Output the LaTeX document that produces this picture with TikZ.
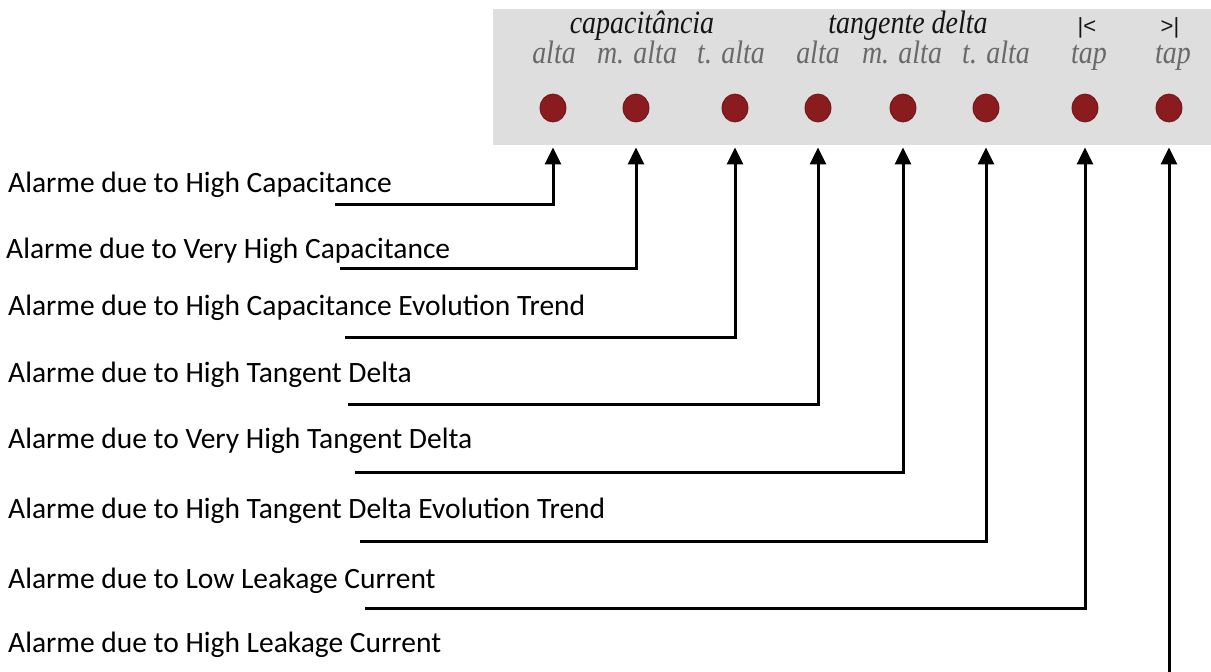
\documentclass[tikz,border=0pt]{standalone}
\usepackage{fontspec}
\usetikzlibrary{arrows.meta,shapes.geometric}
\newfontfamily\labfont{Carlito}
\newfontfamily\hdrfont[FakeStretch=0.86]{Liberation Serif}
\newfontfamily\symfont{Liberation Sans}
\definecolor{panelgray}{RGB}{222,222,222}
\definecolor{ledred}{RGB}{138,28,32}
\definecolor{subgray}{RGB}{105,105,105}
\definecolor{hdrblack}{RGB}{20,20,20}
\begin{document}
\begin{tikzpicture}[x=1pt,y=-1pt,
  lbl/.style={font=\labfont\fontsize{29.5}{34}\selectfont, anchor=base west, inner sep=0},
  hdr/.style={font=\hdrfont\itshape\fontsize{32.5}{38}\selectfont, text=hdrblack, anchor=base, inner sep=0},
  sub/.style={hdr, text=subgray},
  sym/.style={font=\symfont\fontsize{22}{26}\selectfont, text=hdrblack, anchor=base, inner sep=0},
  led/.style={ellipse, fill=ledred, minimum width=26pt, minimum height=28pt, inner sep=0, draw=ledred!80!black, line width=0.8pt},
  conn/.style={line width=3pt, -{Triangle[length=17pt,width=16pt]}, shorten >=25pt}]
\useasboundingbox (0,0) rectangle (1211,672);
\fill[white] (0,0) rectangle (1211,672);
% panel
\fill[panelgray] (493,9) rectangle (1211,145);
\node[hdr] (hcap) at (642,33) {capacitância};
\node[hdr] (htan) at (908,33) {tangente delta};
\node[sym] (hmin) at (1087,33) {|<};
\node[sym] (hmax) at (1170,33) {>|};
\node[sub] (t1) at (554,63) {alta};
\node[sub] (t2) at (637,63) {m. alta};
\node[sub] (t3) at (731,63) {t. alta};
\node[sub] (t4) at (818,63) {alta};
\node[sub] (t5) at (902,63) {m. alta};
\node[sub] (t6) at (996,63) {t. alta};
\node[sub] (t7) at (1089,63) {tap};
\node[sub] (t8) at (1173,63) {tap};
% LEDs
\node[led] (d1) at (553,108) {};
\node[led] (d2) at (636,108) {};
\node[led] (d3) at (735,108) {};
\node[led] (d4) at (818,108) {};
\node[led] (d5) at (903,108) {};
\node[led] (d6) at (986,108) {};
\node[led] (d7) at (1085,108) {};
\node[led] (d8) at (1169,108) {};
% labels
\node[lbl] (a1) at (8,192) {Alarme due to High Capacitance};
\node[lbl] (a2) at (6,258) {Alarme due to Very High Capacitance};
\node[lbl] (a3) at (8,315) {Alarme due to High Capacitance Evolution Trend};
\node[lbl] (a4) at (8,382) {Alarme due to High Tangent Delta};
\node[lbl] (a5) at (8,448) {Alarme due to Very High Tangent Delta};
\node[lbl] (a6) at (8,518) {Alarme due to High Tangent Delta Evolution Trend};
\node[lbl] (a7) at (8,588) {Alarme due to Low Leakage Current};
\node[lbl] (a8) at (8,652) {Alarme due to High Leakage Current};
% line starts
\coordinate (s1) at (335,204);
\coordinate (s2) at (340,268);
\coordinate (s3) at (345,337);
\coordinate (s4) at (348,404);
\coordinate (s5) at (355,472);
\coordinate (s6) at (360,541);
\coordinate (s7) at (365,608);
\coordinate (s8) at (1169,672);
% connectors
\draw[conn] (s1) -| (d1);
\draw[conn] (s2) -| (d2);
\draw[conn] (s3) -| (d3);
\draw[conn] (s4) -| (d4);
\draw[conn] (s5) -| (d5);
\draw[conn] (s6) -| (d6);
\draw[conn] (s7) -| (d7);
\draw[conn] (s8) -- (d8);
\end{tikzpicture}
\end{document}
